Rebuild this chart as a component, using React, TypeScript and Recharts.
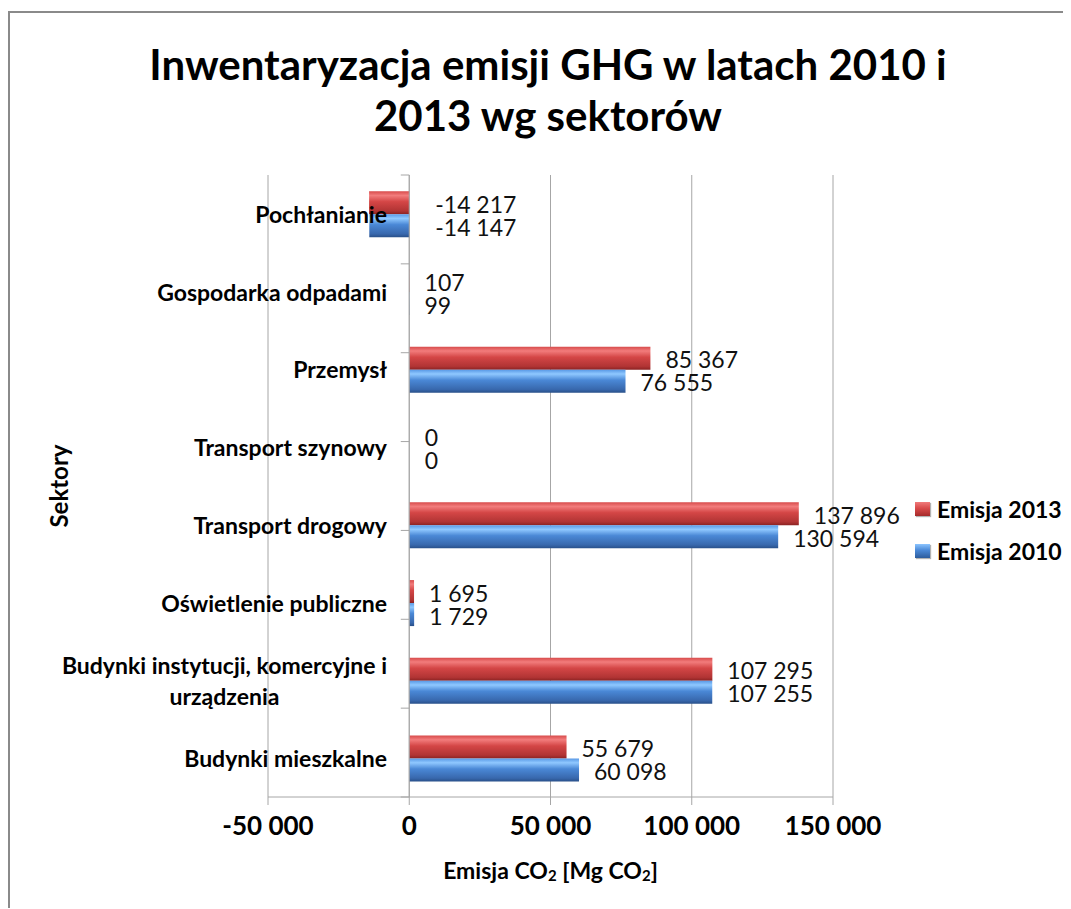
import React from "react";
import {
  BarChart,
  Bar,
  XAxis,
  YAxis,
  CartesianGrid,
  ReferenceLine,
  Legend,
  LabelList,
  Rectangle,
} from "recharts";

const categories = [
  "Pochłanianie",
  "Gospodarka odpadami",
  "Przemysł",
  "Transport szynowy",
  "Transport drogowy",
  "Oświetlenie publiczne",
  "Budynki instytucji, komercyjne i\nurządzenia",
  "Budynki mieszkalne",
];
const emisja2013 = [-14217, 107, 85367, 0, 137896, 1695, 107295, 55679];
const emisja2010 = [-14147, 99, 76555, 0, 130594, 1729, 107255, 60098];
const xTicks = [-50000, 0, 50000, 100000, 150000];
const boundaries = [0, 1, 2, 3, 4, 5, 6, 7, 8];

const data = categories.map((name, i) => ({
  name,
  e2013: emisja2013[i],
  e2010: emisja2010[i],
}));

const FONT = "Lato, 'Open Sans', sans-serif";

const fmt = (v: number) => {
  const s = String(Math.abs(Math.round(v))).replace(/\B(?=(\d{3})+(?!\d))/g, " ");
  return (v < 0 ? "-" : "") + s;
};

let canvasCtx: CanvasRenderingContext2D | null = null;
const measure = (text: string, font: string) => {
  if (!canvasCtx) canvasCtx = document.createElement("canvas").getContext("2d");
  if (!canvasCtx) return text.length * 10;
  canvasCtx.font = font;
  return canvasCtx.measureText(text).width;
};

const CAT_FS = 23;

const CatTick = (props: any) => {
  const { x, y, payload } = props;
  const lines = String(payload.value).split("\n");
  const right = x + 127;
  const fontStr = `bold ${CAT_FS}px Lato`;
  if (lines.length === 1) {
    return (
      <text x={right} y={y} textAnchor="end" dominantBaseline="central" fontFamily={FONT} fontWeight="bold" fontSize={CAT_FS} fill="#000">
        {lines[0]}
      </text>
    );
  }
  const widths = lines.map((l) => measure(l, fontStr));
  const maxW = Math.max(...widths);
  const cx = right - maxW / 2;
  const lh = 31;
  const start = y - ((lines.length - 1) * lh) / 2;
  return (
    <g>
      {lines.map((l, i) => (
        <text key={i} x={cx} y={start + i * lh} textAnchor="middle" dominantBaseline="central" fontFamily={FONT} fontWeight="bold" fontSize={CAT_FS} fill="#000">
          {l}
        </text>
      ))}
    </g>
  );
};

const ValueLabel = (props: any) => {
  const { x, y, width, height, value } = props;
  const right = Math.max(x, x + width);
  const lx = value < 0 ? right + 26 : right + 15;
  return (
    <text x={lx} y={y + height / 2 + 1} dominantBaseline="central" fontFamily={FONT} fontSize={23} fill="#111">
      {fmt(value)}
    </text>
  );
};

const BarShape = (props: any) => {
  const v = props.value;
  const val = Array.isArray(v) ? v[1] - v[0] : v;
  if (val === 0) return null;
  return <Rectangle {...props} />;
};

const XLabel = (props: any) => {
  const vb = props.viewBox || {};
  const cx = vb.x + vb.width / 2;
  const y = vb.y + 73;
  return (
    <text x={cx} y={y} textAnchor="middle" dominantBaseline="central" fontFamily={FONT} fontWeight="bold" fontSize={23} fill="#000">
      Emisja CO
      <tspan fontSize={15} dy={5}>2</tspan>
      <tspan dy={-5}> [Mg CO</tspan>
      <tspan fontSize={15} dy={5}>2</tspan>
      <tspan dy={-5}>]</tspan>
    </text>
  );
};

const YLabel = (props: any) => {
  const vb = props.viewBox || {};
  const cy = vb.y + vb.height / 2;
  const x = 48;
  return (
    <text x={x} y={cy} transform={`rotate(-90 ${x} ${cy})`} textAnchor="middle" dominantBaseline="central" fontFamily={FONT} fontWeight="bold" fontSize={24} fill="#000">
      Sektory
    </text>
  );
};

const legendItems = [
  { label: "Emisja 2013", grad: "linear-gradient(180deg,#f07a7a 0%,#d84a4a 45%,#a52a2a 100%)" },
  { label: "Emisja 2010", grad: "linear-gradient(180deg,#8cc4ff 0%,#4a88d6 45%,#2d5c9c 100%)" },
];

const LegendContent = () => (
  <div style={{ fontFamily: FONT }}>
    {legendItems.map((it) => (
      <div key={it.label} style={{ display: "flex", alignItems: "center", height: 28, marginBottom: 14 }}>
        <div style={{ width: 15, height: 14, background: it.grad, marginRight: 7, boxShadow: "1px 1px 1px rgba(0,0,0,0.3)" }} />
        <span style={{ fontWeight: "bold", fontSize: 23, color: "#000" }}>{it.label}</span>
      </div>
    ))}
  </div>
);

export default function App() {
  return (
    <div
      style={{
        position: "relative",
        marginTop: 3,
        width: 1061,
        height: 895,
        borderTop: "2px solid #8a8a8a",
        borderLeft: "2px solid #8a8a8a",
        background: "#fff",
      }}
    >
      <div
        style={{
          position: "absolute",
          left: 0,
          top: 26,
          width: 1076,
          textAlign: "center",
          fontFamily: FONT,
          fontWeight: "bold",
          fontSize: 42,
          lineHeight: "51px",
          color: "#000",
          zIndex: 2,
        }}
      >
        Inwentaryzacja emisji GHG w latach 2010 i
        <br />
        2013 wg sektorów
      </div>
      <BarChart
        width={1061}
        height={895}
        data={data}
        layout="vertical"
        margin={{ top: 162, right: 238, bottom: 51, left: 0 }}
        barCategoryGap="21%"
        barGap={0}
      >
        <defs>
          <linearGradient id="gRed" x1="0" y1="0" x2="0" y2="1">
            <stop offset="0%" stopColor="#d84c4c" />
            <stop offset="18%" stopColor="#f27c7c" />
            <stop offset="45%" stopColor="#d44646" />
            <stop offset="85%" stopColor="#b13434" />
            <stop offset="100%" stopColor="#8a2222" />
          </linearGradient>
          <linearGradient id="gBlue" x1="0" y1="0" x2="0" y2="1">
            <stop offset="0%" stopColor="#5a9ae6" />
            <stop offset="18%" stopColor="#8fc8ff" />
            <stop offset="45%" stopColor="#4a88d6" />
            <stop offset="85%" stopColor="#3868ad" />
            <stop offset="100%" stopColor="#284f88" />
          </linearGradient>
        </defs>
        <CartesianGrid horizontal={false} vertical stroke="#a6a6a6" />
        <XAxis
          type="number"
          domain={[-50000, 150000]}
          ticks={xTicks}
          tickFormatter={fmt}
          axisLine={{ stroke: "#a6a6a6" }}
          tickLine={{ stroke: "#a6a6a6" }}
          tickSize={8}
          tickMargin={12}
          height={60}
          tick={{ fontFamily: FONT, fontWeight: "bold", fontSize: 26, fill: "#000" }}
          label={<XLabel />}
          allowDataOverflow
        />
        <YAxis
          type="category"
          dataKey="name"
          width={258}
          axisLine={false}
          tickLine={false}
          tick={<CatTick />}
          label={<YLabel />}
          interval={0}
        />
        <YAxis yAxisId="grid" type="number" domain={[0, 8]} hide />
        <Legend
          layout="vertical"
          verticalAlign="middle"
          align="center"
          content={<LegendContent />}
          wrapperStyle={{ position: "absolute", left: 905, top: 482, width: 160, height: 90 }}
        />
        <Bar dataKey="e2013" name="Emisja 2013" fill="url(#gRed)" isAnimationActive={false} minPointSize={(v: number) => (v === 0 ? 0.5 : 0)} shape={<BarShape />}>
          <LabelList dataKey="e2013" content={<ValueLabel />} />
        </Bar>
        <Bar dataKey="e2010" name="Emisja 2010" fill="url(#gBlue)" isAnimationActive={false} minPointSize={(v: number) => (v === 0 ? 0.5 : 0)} shape={<BarShape />}>
          <LabelList dataKey="e2010" content={<ValueLabel />} />
        </Bar>
        <ReferenceLine x={0} stroke="#a6a6a6" />
        {boundaries.map((b) => (
          <ReferenceLine
            key={b}
            yAxisId="grid"
            segment={[
              { x: -3000, y: b },
              { x: 0, y: b },
            ]}
            stroke="#a6a6a6"
          />
        ))}
      </BarChart>
    </div>
  );
}
